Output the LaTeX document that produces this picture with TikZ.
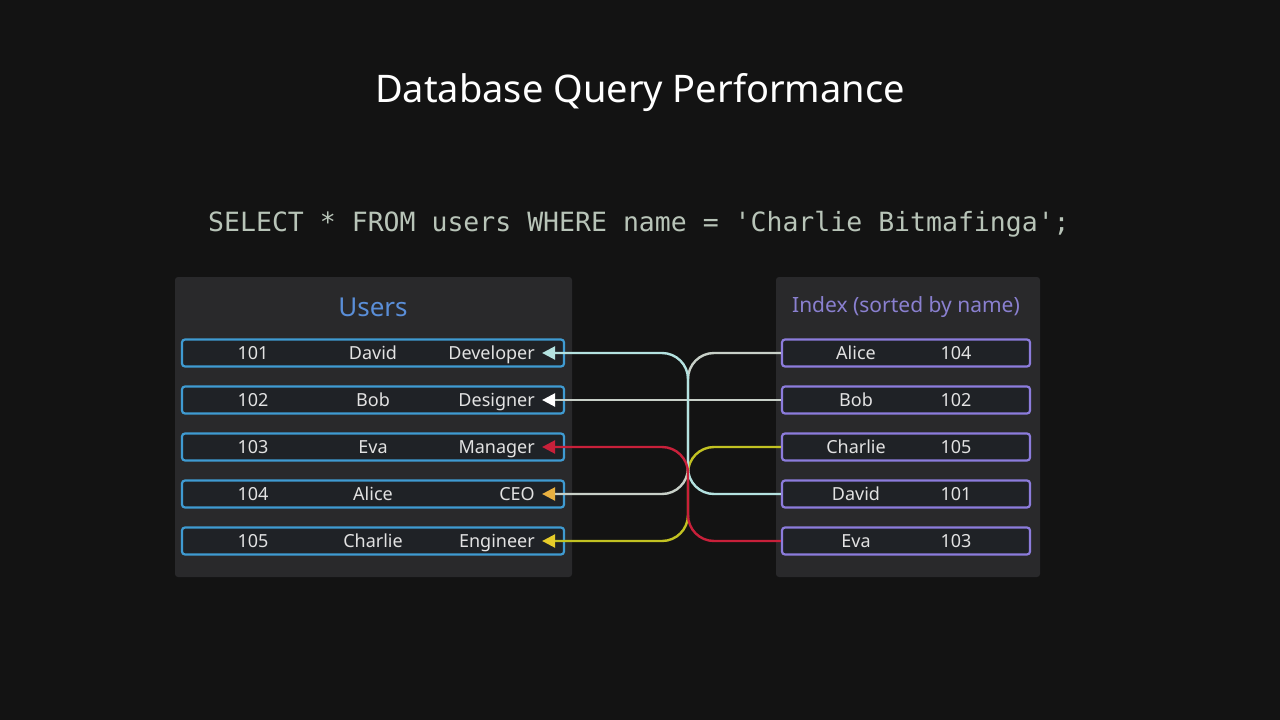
\documentclass[tikz,border=0pt]{standalone}
\usepackage{fontspec}
\setmainfont{Noto Sans}
\setmonofont{DejaVu Sans Mono}
\usetikzlibrary{arrows.meta, positioning, calc}

\definecolor{bgdark}{HTML}{131313}
\definecolor{panelbg}{HTML}{29292B}
\definecolor{rowbg}{HTML}{1F2226}
\definecolor{userblue}{HTML}{3F9BD2}
\definecolor{userttl}{HTML}{5A8ED8}
\definecolor{idxpurple}{HTML}{8C7CDC}
\definecolor{idxttl}{HTML}{8A80D0}
\definecolor{celltext}{HTML}{E2E2E2}
\definecolor{querytext}{HTML}{B8C4B8}
\definecolor{linkgray}{HTML}{C8D0C8}
\definecolor{linkcyan}{HTML}{B4E2E0}
\definecolor{linkred}{HTML}{C8203A}
\definecolor{linkyellow}{HTML}{C2C222}
\definecolor{tipyellow}{HTML}{E6CC2A}
\definecolor{tiporange}{HTML}{E8B040}

\tikzset{
  panel/.style={fill=panelbg, rounded corners=3pt},
  userrow/.style={draw=userblue, line width=2.2pt, fill=rowbg, rounded corners=3pt,
    minimum width=382pt, minimum height=27pt},
  idxrow/.style={draw=idxpurple, line width=2.2pt, fill=rowbg, rounded corners=3pt,
    minimum width=248pt, minimum height=27pt},
  celltxt/.style={text=celltext, font=\fontsize{18}{20}\selectfont, inner sep=0pt,
    text height=13pt, text depth=4pt, yshift=-2pt},
  link/.style={line width=2.4pt, rounded corners=26pt},
  tip/.style={-{Triangle[length=13pt, width=13pt, color=#1]}}
}

\begin{document}
\begin{tikzpicture}[x=1pt, y=-1pt]
    % Background
    \path[fill=bgdark] (0,0) rectangle (1280,720);

    % Title and query
    \node (title) at (640,93) [text=white, font=\fontsize{38}{42}\selectfont] {Database Query Performance};
    \node (query) at (639,224) [text=querytext, font=\ttfamily\fontsize{26.5}{30}\selectfont]
      {SELECT * FROM users WHERE name = 'Charlie Bitmafinga';};

    % Panels
    \path[panel] (175,277) rectangle (572,577);
    \path[panel] (776,277) rectangle (1040,577);
    \node (usersttl) at (373,307) [text=userttl, font=\fontsize{26}{30}\selectfont] {Users};
    \node (idxttl) at (906,307) [text=idxttl, font=\fontsize{21}{24}\selectfont] {Index (sorted by name)};

    % Users table
    \foreach \id/\nm/\role [count=\i] in {101/David/Developer, 102/Bob/Designer,
        103/Eva/Manager, 104/Alice/CEO, 105/Charlie/Engineer} {
      \node (u\id) [userrow] at (373,306+47*\i) {};
      \node [celltxt] at (253,306+47*\i) {\id};
      \node [celltxt] at (373,306+47*\i) {\nm};
      \node [celltxt, anchor=east] at (535,306+47*\i) {\role};
    }

    % Index table
    \foreach \nm/\id [count=\i] in {Alice/104, Bob/102, Charlie/105, David/101, Eva/103} {
      \node (i\nm) [idxrow] at (906,306+47*\i) {};
      \node [celltxt] at (856,306+47*\i) {\nm};
      \node [celltxt] at (956,306+47*\i) {\id};
    }

    % Lookups
    \coordinate (mid) at (688,446);
    \draw[link, linkgray, tip=tiporange] (iAlice.west) -| (mid |- u104.east) -- ([xshift=-23pt]u104.east);
    \draw[link, linkgray, tip=white] (iBob.west) -- ([xshift=-23pt]u102.east);
    \draw[link, linkyellow, tip=tipyellow] (iCharlie.west) -| (mid |- u105.east) -- ([xshift=-23pt]u105.east);
    \draw[link, linkcyan, tip=linkcyan] (iDavid.west) -| (mid |- u101.east) -- ([xshift=-23pt]u101.east);
    \draw[link, linkred, tip=linkred] (iEva.west) -| (mid |- u103.east) -- ([xshift=-23pt]u103.east);
\end{tikzpicture}
\end{document}
